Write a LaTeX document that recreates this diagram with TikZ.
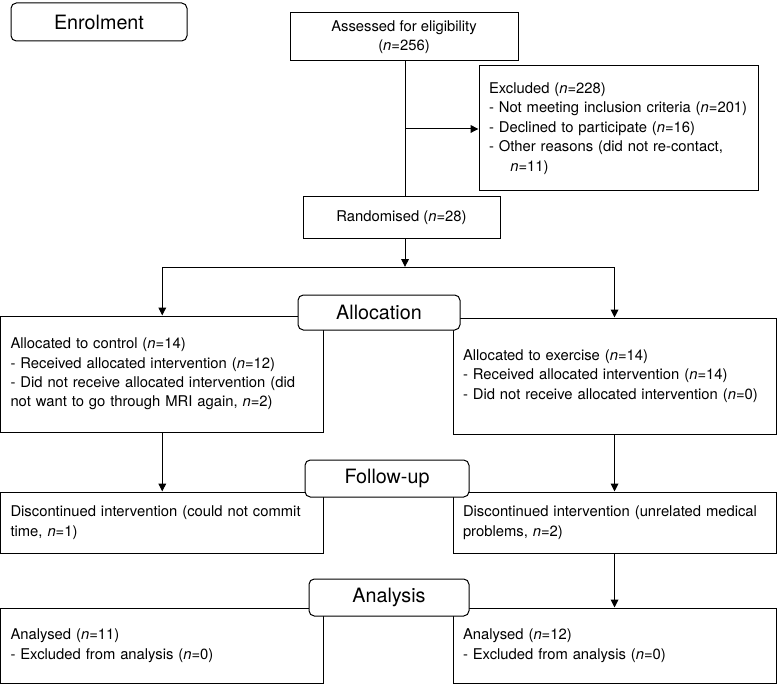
\documentclass[tikz,border=0pt]{standalone}
\usepackage{fontspec}
\setmainfont{TeX Gyre Heros}
\usetikzlibrary{arrows.meta}
\newcommand{\nn}{\textit{n}}
\newcommand{\tline}[1]{\mbox{#1}}
\tikzset{
  body/.style={font=\fontsize{11.1}{14.6}\selectfont},
  box/.style={draw, line width=0.75pt, rectangle, fill=white, inner xsep=7.5pt, inner ysep=0pt, align=left, body},
  headbox/.style={draw, line width=0.75pt, rectangle, rounded corners=4pt, fill=white, inner sep=0pt, font=\fontsize{14.8}{17}\selectfont},
  conn/.style={line width=0.75pt},
  arr/.style={line width=0.75pt, -{Triangle[length=6pt,width=5.8pt]}},
}
\begin{document}
\begin{tikzpicture}[x=0.75pt,y=-0.75pt]
\useasboundingbox (0,0) rectangle (777,684);
% main boxes
\node[box, align=center, minimum width=171pt, minimum height=36pt] (assess) at (404,37) {Assessed for eligibility\\(\nn=256)};
\node[box, minimum width=209.25pt, minimum height=93.75pt, text width=194.25pt] (excl) at (618.5,128.5)
  {\tline{Excluded (\nn=228)}\\\tline{- Not meeting inclusion criteria (\nn=201)}\\\tline{- Declined to participate (\nn=16)}\\\tline{- Other reasons (did not re-contact,}\\\tline{\hspace*{16pt}\nn=11)}};
\node[box, align=center, minimum width=147.75pt, minimum height=30.75pt] (rand) at (401.5,217.5) {Randomised (\nn=28)};
\node[box, minimum width=242.6pt, minimum height=87pt, text width=227.6pt] (ctrl) at (162.25,374)
  {\tline{Allocated to control (\nn=14)}\\\tline{- Received allocated intervention (\nn=12)}\\\tline{- Did not receive allocated intervention (did}\\\tline{not want to go through MRI again, \nn=2)}};
\node[box, minimum width=242.25pt, minimum height=87pt, text width=227.25pt] (exer) at (614.5,376)
  {\tline{Allocated to exercise (\nn=14)}\\\tline{- Received allocated intervention (\nn=14)}\\\tline{- Did not receive allocated intervention (\nn=0)}};
\node[box, minimum width=242.6pt, minimum height=45.75pt, text width=227.6pt] (fuL) at (162.25,522.5)
  {\tline{Discontinued intervention (could not commit}\\\tline{time, \nn=1)}};
\node[box, minimum width=242.25pt, minimum height=45.75pt, text width=227.25pt] (fuR) at (614.5,522.5)
  {\tline{Discontinued intervention (unrelated medical}\\\tline{problems, \nn=2)}};
\node[box, minimum width=242.6pt, minimum height=56.25pt, text width=227.6pt] (anL) at (162.25,645.5)
  {\tline{Analysed (\nn=11)}\\\tline{- Excluded from analysis (\nn=0)}};
\node[box, minimum width=242.25pt, minimum height=56.25pt, text width=227.25pt] (anR) at (614.5,645.5)
  {\tline{Analysed (\nn=12)}\\\tline{- Excluded from analysis (\nn=0)}};
% heading boxes
\node[headbox, minimum width=132pt, minimum height=28.5pt] (enrol) at (99,22) {Enrolment};
\node[headbox, minimum width=121.5pt, minimum height=26.25pt] (alloc) at (379,312.5) {Allocation};
\node[headbox, minimum width=123pt, minimum height=27.75pt] (follow) at (387,478.5) {Follow-up};
\node[headbox, minimum width=120pt, minimum height=27.75pt] (analysis) at (389,597.5) {Analysis};
% connectors
\coordinate (branch) at (405,129);
\coordinate (split) at (405,267);
\draw[conn] (405,0 |- assess.south) -- (405,0 |- rand.north);
\draw[arr] (branch) -- (branch -| excl.west);
\draw[arr] (405,0 |- rand.south) -- (split);
\draw[conn] (ctrl.north |- split) -- (exer.north |- split);
\draw[arr] (ctrl.north |- split) -- (ctrl.north);
\draw[arr] (exer.north |- split) -- (exer.north);
\draw[arr] (ctrl.south) -- (fuL.north);
\draw[arr] (exer.south) -- (fuR.north);
\draw[arr] (fuR.south) -- (anR.north);
\end{tikzpicture}
\end{document}
